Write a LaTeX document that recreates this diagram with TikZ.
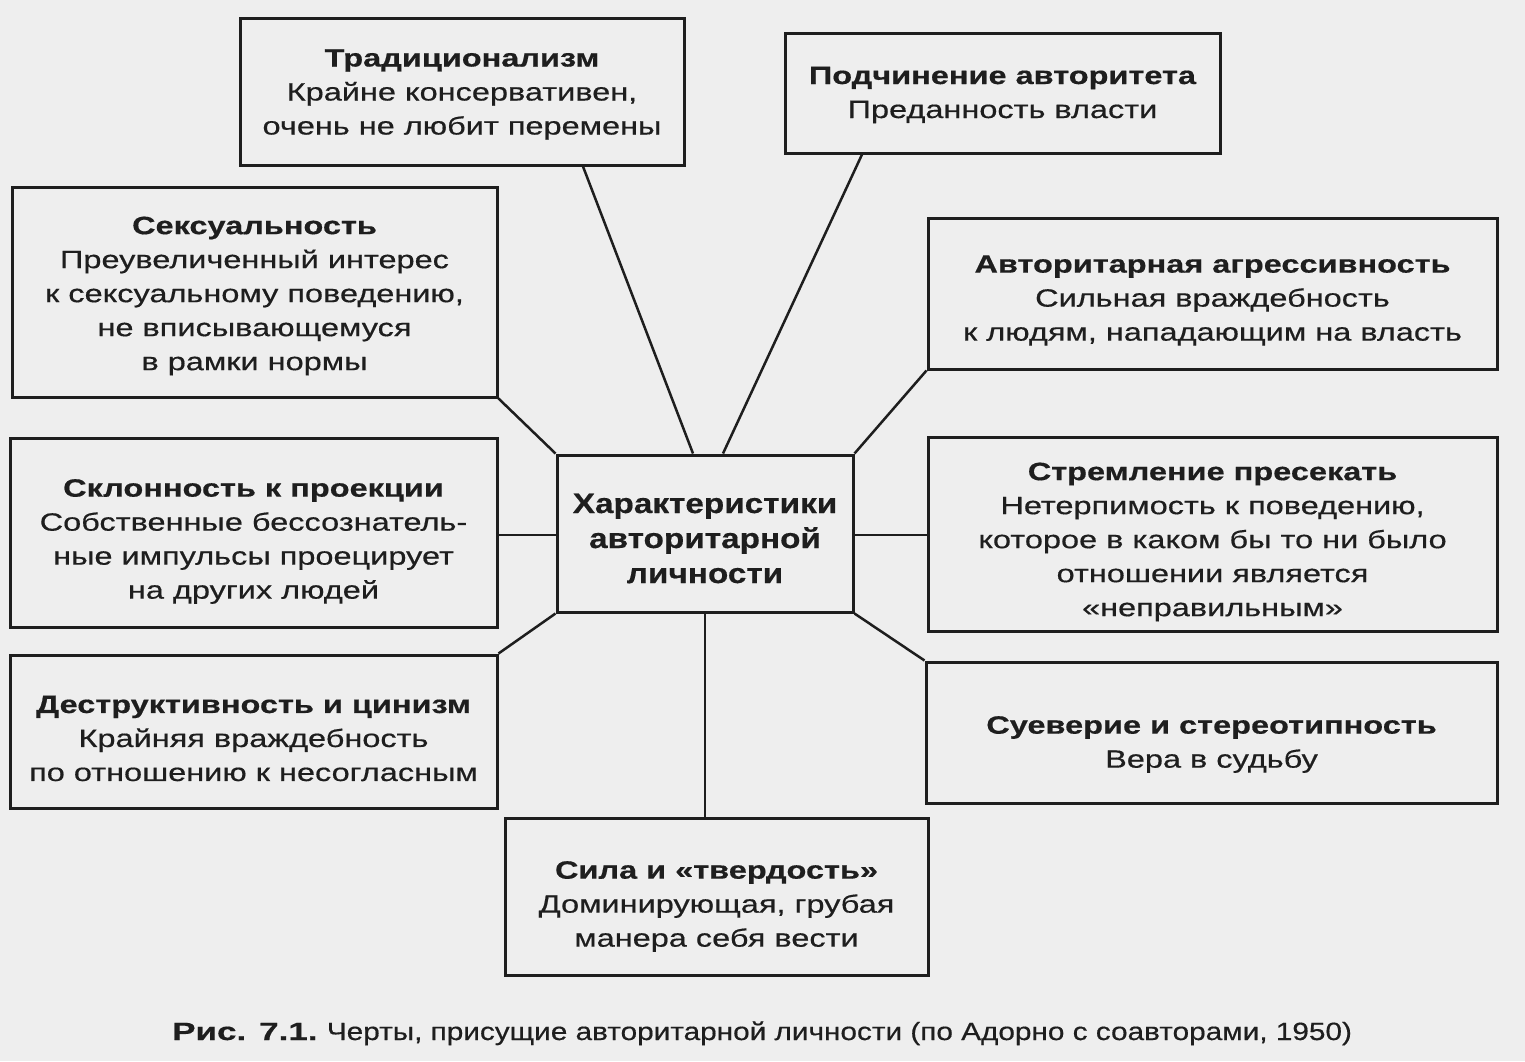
\documentclass[tikz,border=0pt]{standalone}
\usepackage{fontspec}
\setmainfont{Liberation Sans}
\newfontfamily\wfont[FakeStretch=1.3,FakeBold=0.5]{Liberation Sans}
\newfontfamily\cfont[FakeStretch=1.19,FakeBold=0.5]{Liberation Sans}
\newfontfamily\capfont[FakeStretch=1.19,FakeBold=0.5]{Liberation Sans}
\newfontfamily\capbfont[FakeStretch=1.4,FakeBold=0.5]{Liberation Sans}
\usetikzlibrary{calc}
\definecolor{bg}{RGB}{238,238,238}
\definecolor{ink}{RGB}{30,30,30}
\tikzset{
  box/.style={draw=ink, line width=3pt, rectangle, inner sep=0pt},
  boxtext/.style={align=center, inner sep=0pt, text=ink,
    font=\wfont\fontsize{25pt}{34pt}\selectfont},
  link/.style={draw=ink, line width=2.5pt},
}
\begin{document}
\begin{tikzpicture}[x=1pt,y=-1pt]
\fill[bg] (0,0) rectangle (1525,1061);
\useasboundingbox (0,0) rectangle (1525,1061);

% boxes
\node[box, minimum width=444pt, minimum height=147pt] (trad) at (462,91.5) {};
\node[box, minimum width=435pt, minimum height=120pt] (sub) at (1002.5,93) {};
\node[box, minimum width=485pt, minimum height=210pt] (sex) at (254.5,292) {};
\node[box, minimum width=569pt, minimum height=151pt] (agg) at (1212.5,293.5) {};
\node[box, minimum width=487pt, minimum height=189pt] (proj) at (253.5,532.5) {};
\node[box, minimum width=569pt, minimum height=194pt] (strive) at (1212.5,534) {};
\node[box, minimum width=487pt, minimum height=153pt] (destr) at (253.5,731.5) {};
\node[box, minimum width=571pt, minimum height=141pt] (sup) at (1211.5,732.5) {};
\node[box, minimum width=423pt, minimum height=157pt] (power) at (716.5,896.5) {};
\node[box, minimum width=296pt, minimum height=157pt] (ctr) at (705,533.5) {};

% texts
\node[boxtext] (trad-t) at ([yshift=-3pt]trad.center)
 {\textbf{Традиционализм}\\Крайне консервативен,\\очень не любит перемены};
\node[boxtext] (sub-t) at ([yshift=-2pt]sub.center)
 {\textbf{Подчинение авторитета}\\Преданность власти};
\node[boxtext] (sex-t) at ([yshift=-4pt]sex.center)
 {\textbf{Сексуальность}\\Преувеличенный интерес\\к сексуальному поведению,\\не вписывающемуся\\в рамки нормы};
\node[boxtext] (agg-t) at ([yshift=-7pt]agg.center)
 {\textbf{Авторитарная агрессивность}\\Сильная враждебность\\к людям, нападающим на власть};
\node[boxtext] (proj-t) at ([yshift=-9pt]proj.center)
 {\textbf{Склонность к проекции}\\Собственные бессознатель-\\ные импульсы проецирует\\на других людей};
\node[boxtext] (strive-t) at ([yshift=-8pt]strive.center)
 {\textbf{Стремление пресекать}\\Нетерпимость к поведению,\\которое в каком бы то ни было\\отношении является\\«неправильным»};
\node[boxtext] (destr-t) at ([yshift=-7pt]destr.center)
 {\textbf{Деструктивность и цинизм}\\Крайняя враждебность\\по отношению к несогласным};
\node[boxtext] (sup-t) at ([yshift=-12pt]sup.center)
 {\textbf{Суеверие и стереотипность}\\Вера в судьбу};
\node[boxtext] (power-t) at ([yshift=-10pt]power.center)
 {\textbf{Сила и «твердость»}\\Доминирующая, грубая\\манера себя вести};
\node[boxtext, font=\cfont\bfseries\fontsize{28pt}{35pt}\selectfont] (ctr-t) at ([yshift=-5pt]ctr.center)
 {Характеристики\\авторитарной\\личности};

% connectors
\draw[link] ([xshift=121pt]trad.south) -- ([xshift=-12pt]ctr.north);
\draw[link] ([xshift=-140.5pt]sub.south) -- ([xshift=18pt]ctr.north);
\draw[link] (sex.south east) -- (ctr.north west);
\draw[link] (agg.south west) -- (ctr.north east);
\draw[link] ([yshift=-1.5pt]ctr.west) -- ([yshift=-1.5pt]ctr.west -| proj.east);
\draw[link] ([yshift=-1.5pt]ctr.east) -- ([yshift=-1.5pt]ctr.east -| strive.west);
\draw[link] (destr.north east) -- (ctr.south west);
\draw[link] (sup.north west) -- (ctr.south east);
\draw[link] (ctr.south) -- (ctr.south |- power.north);

% caption
\node[text=ink, inner sep=0pt, anchor=base west, font=\fontsize{25pt}{30pt}\selectfont] (cap) at (172,1040)
 {{\capbfont\bfseries Рис. 7.1.} {\capfont Черты, присущие авторитарной личности (по Адорно с соавторами, 1950)}};
\end{tikzpicture}
\end{document}
